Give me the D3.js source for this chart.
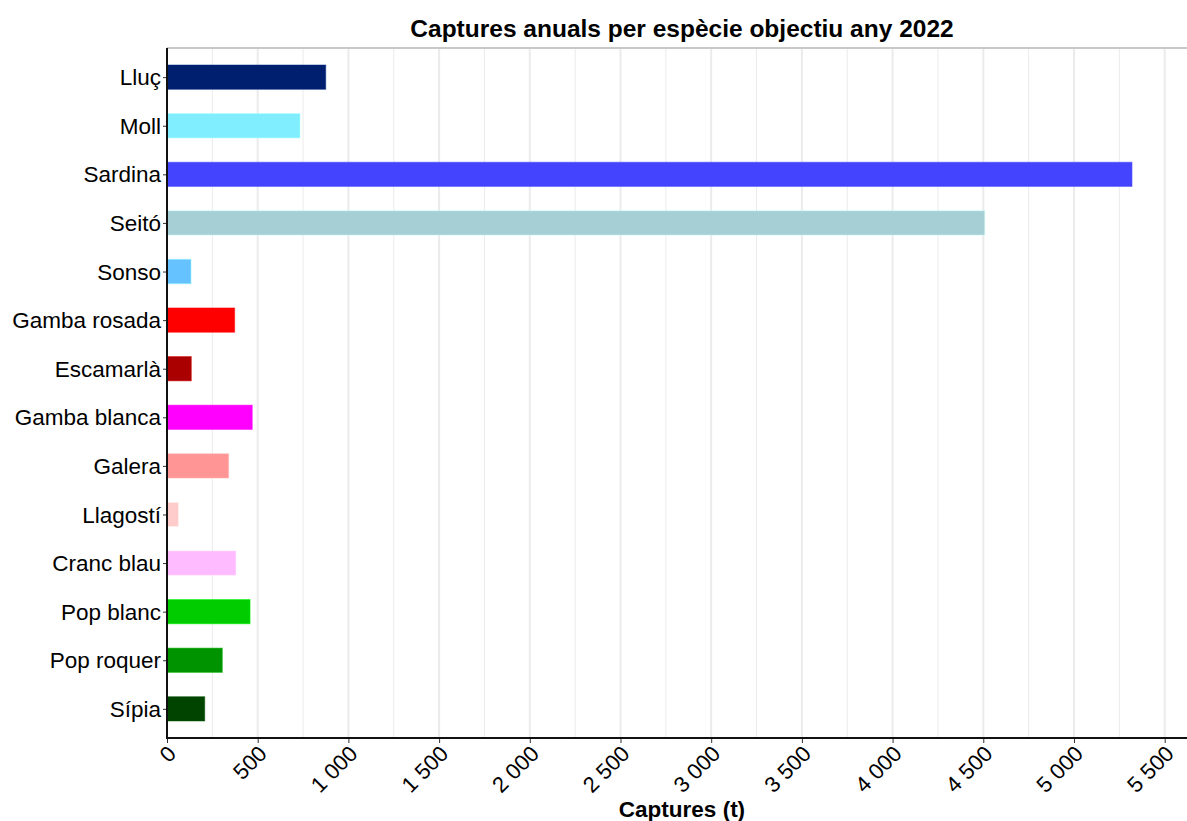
<!DOCTYPE html>
<html>
<head>
<meta charset="utf-8">
<script src="https://cdn.jsdelivr.net/npm/d3@7"></script>
<style>
body{margin:0;background:#fff;}
svg{display:block;font-family:"Liberation Sans",Arial,sans-serif;}
</style>
</head>
<body>
<svg id="chart" width="1187" height="821"></svg>
<script>
const categories = ["Lluç","Moll","Sardina","Seitó","Sonso","Gamba rosada","Escamarlà","Gamba blanca","Galera","Llagostí","Cranc blau","Pop blanc","Pop roquer","Sípia"];
const values = [875, 733, 5320, 4508, 132, 373, 134, 470, 340, 64, 380, 458, 305, 208];
const colors = ["#001F6E","#80EEFF","#4444FF","#A6CFD5","#66C2FF","#FF0000","#AA0000","#FF00FF","#FF9595","#FFCCCC","#FFBBFF","#00CC00","#009300","#004400"];
const xTicks = [0,500,1000,1500,2000,2500,3000,3500,4000,4500,5000,5500];
const minorTicks = [250,750,1250,1750,2250,2750,3250,3750,4250,4750,5250];
const title = "Captures anuals per espècie objectiu any 2022";
const xTitle = "Captures (t)";

const svg = d3.select("#chart");
const L = 167, R = 1187, T = 48, B = 738;
const FONT = "Liberation Sans, Arial, sans-serif";

const x = d3.scaleLinear().domain([0, 5623]).range([L, R]);
const yc = d3.scalePoint().domain(categories).range([T, B]).padding(0.6);
const step = yc.step();
const bh = step * 0.5;

// grid
svg.append("g").selectAll("line").data(minorTicks).join("line")
  .attr("x1", d=>x(d)).attr("x2", d=>x(d)).attr("y1", T).attr("y2", B)
  .attr("stroke", "#ebebeb").attr("stroke-width", 1);
svg.append("g").selectAll("line").data(xTicks).join("line")
  .attr("x1", d=>x(d)).attr("x2", d=>x(d)).attr("y1", T).attr("y2", B)
  .attr("stroke", "#ebebeb").attr("stroke-width", 2);

// top border line
svg.append("line").attr("x1", L).attr("x2", R).attr("y1", T).attr("y2", T)
  .attr("stroke", "#c8c8c8").attr("stroke-width", 2);

// bars
svg.append("g").selectAll("rect").data(categories).join("rect")
  .attr("x", x(0))
  .attr("y", d => yc(d) - bh/2)
  .attr("width", (d,i) => x(values[i]) - x(0))
  .attr("height", bh)
  .attr("fill", (d,i) => colors[i])
  .attr("stroke", (d,i) => d3.color(colors[i]).brighter(0.6))
  .attr("stroke-opacity", 0.5)
  .attr("stroke-width", 1);

// y axis
const yAxis = d3.axisLeft(yc).tickSize(4).tickPadding(2);
const gy = svg.append("g").attr("transform", `translate(${L},0)`).call(yAxis);
gy.select(".domain").remove();
gy.selectAll(".tick line").attr("stroke", "#333").attr("stroke-width", 1);
gy.selectAll(".tick text").attr("font-size", 22.5).attr("fill", "#000").attr("font-family", FONT).attr("dy", "0.34em");
svg.append("line").attr("x1", L).attr("x2", L).attr("y1", T).attr("y2", B).attr("stroke", "#111").attr("stroke-width", 2);

// x axis
const xAxis = d3.axisBottom(x).tickValues(xTicks).tickSize(5).tickFormat(d => d3.format(",")(d).replace(/,/g, " "));
const gx = svg.append("g").attr("transform", `translate(0,${B})`).call(xAxis);
gx.select(".domain").remove();
gx.selectAll(".tick line").attr("stroke", "#333");
gx.selectAll(".tick text")
  .attr("font-size", 22).attr("fill", "#000")
  .attr("font-family", FONT)
  .attr("text-anchor", "end")
  .attr("dy", null).attr("y", 0)
  .attr("transform", "translate(10,17) rotate(-45)");
svg.append("line").attr("x1", L-1).attr("x2", R).attr("y1", B).attr("y2", B).attr("stroke", "#111").attr("stroke-width", 2);

// titles
svg.append("text").attr("x", 682).attr("y", 37).attr("text-anchor", "middle")
  .attr("font-size", 24.5).attr("font-weight", "bold").attr("fill", "#000").text(title);
svg.append("text").attr("x", 682).attr("y", 817).attr("text-anchor", "middle")
  .attr("font-size", 22.5).attr("font-weight", "bold").attr("fill", "#000").text(xTitle);
</script>
</body>
</html>
